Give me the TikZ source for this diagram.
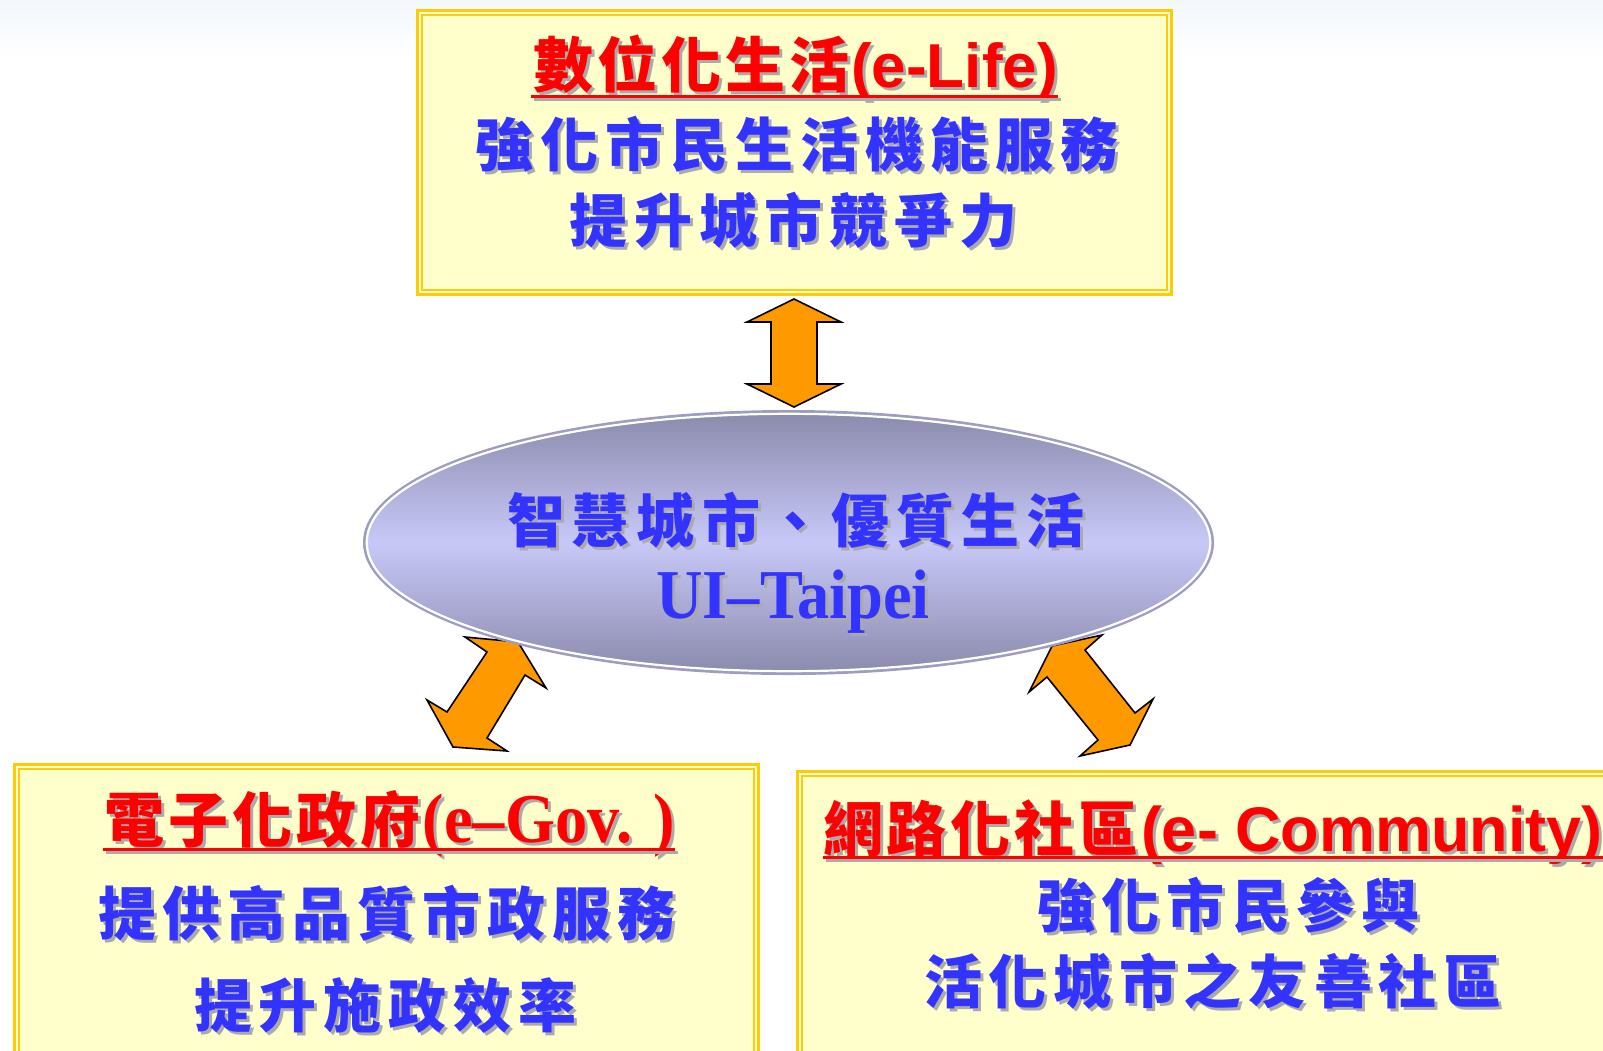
\documentclass[tikz,border=0pt]{standalone}
\usepackage{fontspec}
\setmainfont{Liberation Serif}
\newfontfamily\cjk{Noto Sans CJK TC}
\newfontfamily\arialf{Liberation Sans}
\newfontfamily\timesf{Liberation Serif}
\newfontfamily\timesc{Liberation Serif}[FakeStretch=0.92]
\usetikzlibrary{shapes.geometric}

\definecolor{boxfill}{HTML}{FFFFCC}
\definecolor{boxline}{HTML}{FFCC00}
\definecolor{boxgap}{HTML}{FFFBE0}
\definecolor{arrowfill}{HTML}{FF9900}
\definecolor{txtblue}{HTML}{3333FF}
\definecolor{txtred}{HTML}{FF0000}
\definecolor{shadowc}{HTML}{AAAAAA}
\definecolor{elltop}{HTML}{8A8AAC}
\definecolor{ellmid}{HTML}{C8C8F8}
\definecolor{ellline}{HTML}{9C9CC4}
\definecolor{bgtop}{HTML}{F2F7FB}

\newlength\cw
\def\spaced#1{\spcx#1\relax}
\def\spcx#1{\ifx#1\relax\else\makebox[\cw]{#1}\expandafter\spcx\fi}
\newcommand\bodycjk[1]{{\cjk\bfseries\fontsize{58}{58}\selectfont\setlength\cw{65pt}\spaced{#1}}}
\newcommand\titlecjk[1]{{\cjk\bfseries\fontsize{60}{60}\selectfont\setlength\cw{64pt}\spaced{#1}}}
\newcommand\txtline[5]{%
  \node[txt, text=shadowc] (#1s) at (#2+3,#3+3) {#5};
  \node[txt, text=#4] (#1) at (#2,#3) {#5};}

\tikzset{
  txt/.style={anchor=base, inner sep=0pt, outer sep=0pt},
  txtw/.style={anchor=base west, inner sep=0pt, outer sep=0pt},
  ybox/.style={rectangle, draw=boxline, double=boxgap, double distance=1.8pt,
               line width=2.8pt, fill=boxfill, inner sep=0pt},
  blockarr/.style={fill=arrowfill, draw=black, line width=1.6pt, line join=miter},
  uline/.style={txtred, line width=3pt},
  ushadow/.style={shadowc, line width=3pt},
}

\begin{document}
\begin{tikzpicture}[x=1pt,y=-1pt]
\useasboundingbox (0,0) rectangle (1603,1050);
\clip (0,0) rectangle (1603,1050);
\fill[white] (0,0) rectangle (1603,1050);
\shade[top color=bgtop, bottom color=white] (0,0) rectangle (1603,60);

% boxes
\node[ybox, minimum width=749.6pt, minimum height=279.6pt] (life) at (794.5,152.5) {};
\node[ybox, minimum width=739.6pt, minimum height=303.3pt] (gov) at (386.5,918.35) {};
\node[ybox, minimum width=820.3pt, minimum height=296.3pt] (comm) at (1209.85,921.85) {};

% block arrows
\draw[blockarr] (794,299) -- (841,322) -- (817,322) -- (817,384) -- (841,384)
  -- (794,407) -- (747,384) -- (771,384) -- (771,322) -- (747,322) -- cycle;
\draw[blockarr] (465,637) -- (518,642) -- (546,688) -- (525,675) -- (487,738)
  -- (507,751) -- (453,747) -- (427,700) -- (447,712) -- (487,652) -- cycle;
\draw[blockarr] (1052,646) -- (1102,635) -- (1085,650) -- (1135,713) -- (1153,699)
  -- (1130,745) -- (1080,756) -- (1098,740) -- (1047,677) -- (1029,692) -- cycle;

% central ellipse
\node[ellipse, minimum width=848.5pt, minimum height=262.5pt, inner sep=0pt,
      top color=elltop, bottom color=elltop, middle color=ellmid,
      draw=ellline, line width=2.5pt] (city) at (788.5,542.5) {};
\draw[white, line width=2.2pt] (city.center) ellipse [x radius=421.7, y radius=128.7];

% top box text
\txtline{lifet}{794.5}{87}{txtred}{\titlecjk{數位化生活}{\arialf\bfseries\fontsize{62}{62}\selectfont(e-Life)}}
\draw[ushadow] ([shift={(3,12)}]lifet.base west) -- ([shift={(3,12)}]lifet.base east);
\draw[uline] ([shift={(0,9)}]lifet.base west) -- ([shift={(0,9)}]lifet.base east);
\txtline{lifea}{797}{166}{txtblue}{\bodycjk{強化市民生活機能服務}}
\txtline{lifeb}{793.5}{242}{txtblue}{\bodycjk{提升城市競爭力}}

% ellipse text
\txtline{citya}{796}{542}{txtblue}{\bodycjk{智慧城市、優質生活}}
\txtline{cityb}{793}{618}{txtblue}{\timesc\bfseries\fontsize{70}{70}\selectfont UI–Taipei}

% left box text
\txtline{govt}{389}{842}{txtred}{\titlecjk{電子化政府}{\timesc\bfseries\fontsize{70}{70}\selectfont(e–Gov. )}}
\draw[ushadow] ([shift={(3,10)}]govt.base west) -- ([shift={(3,10)}]govt.base east);
\draw[uline] ([shift={(0,7)}]govt.base west) -- ([shift={(0,7)}]govt.base east);
\txtline{gova}{387}{935}{txtblue}{\bodycjk{提供高品質市政服務}}
\txtline{govb}{385.5}{1027}{txtblue}{\bodycjk{提升施政效率}}

% right box text
\node[txtw, text=shadowc] (commts) at (824,854) {\titlecjk{網路化社區}{\arialf\bfseries\fontsize{63}{63}\selectfont(e- Community)}};
\node[txtw, text=txtred] (commt) at (821,851) {\titlecjk{網路化社區}{\arialf\bfseries\fontsize{63}{63}\selectfont(e- Community)}};
\draw[ushadow] ([shift={(5,9)}]commt.base west) -- ([shift={(3,9)}]commt.base east);
\draw[uline] ([shift={(2,6)}]commt.base west) -- ([shift={(0,6)}]commt.base east);
\txtline{comma}{1228.5}{927}{txtblue}{\bodycjk{強化市民參與}}
\txtline{commb}{1213}{1003}{txtblue}{\bodycjk{活化城市之友善社區}}
\end{tikzpicture}
\end{document}
